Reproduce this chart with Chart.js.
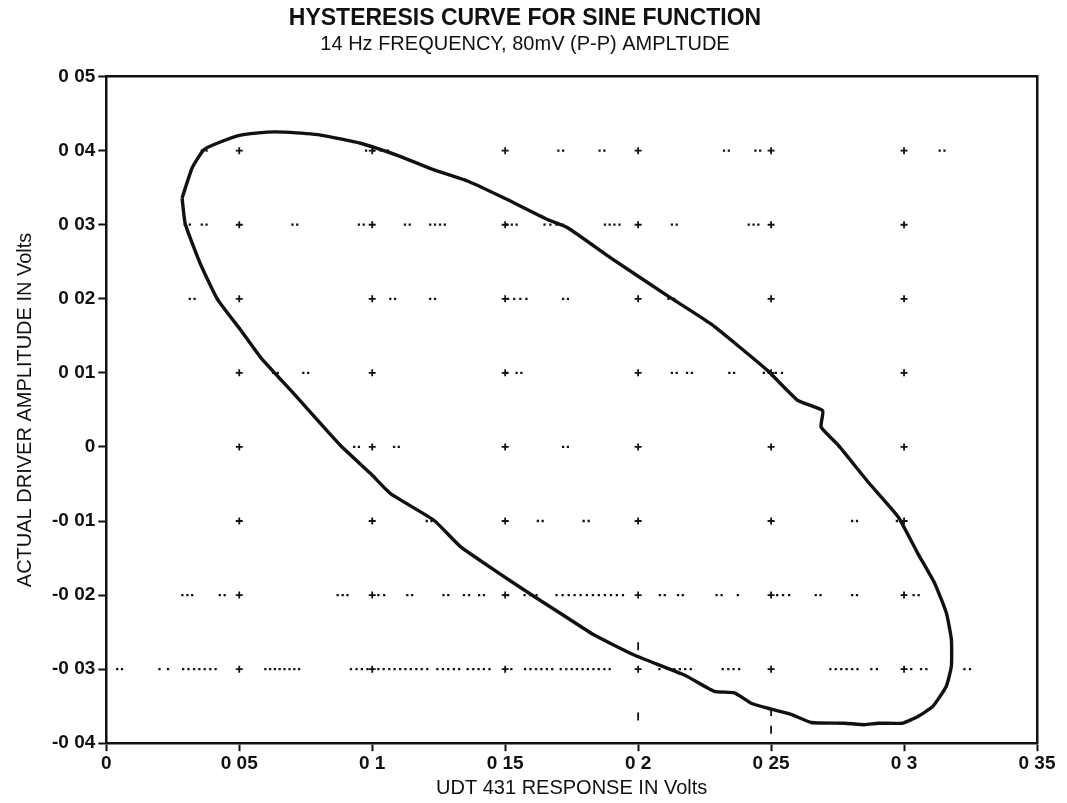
<!DOCTYPE html>
<html>
<head>
<meta charset="utf-8">
<script src="https://cdn.jsdelivr.net/npm/chart.js@4.4.1/dist/chart.umd.min.js"></script>
<style>
  body { margin: 0; background: #fff; }
  canvas { display: block; }
</style>
</head>
<body>
<canvas id="chartHysteresis" width="1067" height="803"></canvas>
<script>
// ticks
const xTickValues = [0, 0.05, 0.1, 0.15, 0.2, 0.25, 0.3, 0.35];
const xTickLabels = ['0', '0 05', '0 1', '0 15', '0 2', '0 25', '0 3', '0 35'];
const yTickValues = [0.05, 0.04, 0.03, 0.02, 0.01, 0, -0.01, -0.02, -0.03, -0.04];
const yTickLabels = ['0 05', '0 04', '0 03', '0 02', '0 01', '0', '-0 01', '-0 02', '-0 03', '-0 04'];

// hysteresis loop (response, driver amplitude)
const loopX = [0.0285, 0.0323, 0.0366, 0.0417, 0.0505, 0.0605, 0.0668, 0.0806, 0.0956, 0.1107,
  0.1232, 0.1358, 0.1496, 0.1659, 0.1735, 0.1898, 0.2111, 0.2274, 0.2487, 0.2600,
  0.2694, 0.2688, 0.2751, 0.2864, 0.2977, 0.3052, 0.3115, 0.3159, 0.3178, 0.3178,
  0.3159, 0.3109, 0.3052, 0.2994, 0.2902, 0.2851, 0.2776, 0.2651, 0.2575, 0.2500,
  0.2425, 0.2362, 0.2287, 0.2174, 0.1985, 0.1835, 0.1735, 0.1609, 0.1483, 0.1333,
  0.1232, 0.1069, 0.0994, 0.0881, 0.0705, 0.0580, 0.0505, 0.0417, 0.0354, 0.0297, 0.0285];
const loopY = [0.0336, 0.0377, 0.0401, 0.0410, 0.0421, 0.0425, 0.0425, 0.0421, 0.0410, 0.0392,
  0.0374, 0.0359, 0.0336, 0.0307, 0.0296, 0.0255, 0.0204, 0.0166, 0.0103, 0.0063,
  0.0049, 0.0027, 0.0003, -0.0047, -0.0094, -0.0144, -0.0184, -0.0224, -0.0260, -0.0296,
  -0.0323, -0.0350, -0.0364, -0.0373, -0.0373, -0.0375, -0.0373, -0.0372, -0.0361, -0.0354,
  -0.0346, -0.0332, -0.0330, -0.0308, -0.0281, -0.0254, -0.0231, -0.0202, -0.0172, -0.0135,
  -0.0099, -0.0063, -0.0036, 0.0002, 0.0072, 0.0121, 0.0158, 0.0200, 0.0247, 0.0301, 0.0336];

// stray dots of the plotter along each grid row
const rowLevels = [0.04, 0.03, 0.02, 0.01, 0, -0.01, -0.02, -0.03];
const row04 = [0.0359, 0.0377, 0.0977, 0.1005, 0.1032, 0.1059, 0.17, 0.1718, 0.1855, 0.1873,
  0.2323, 0.2341, 0.2441, 0.2459, 0.3134, 0.3152];
const row03 = [0.0295, 0.0314, 0.0359, 0.0377, 0.07, 0.0718, 0.095, 0.0968, 0.1123, 0.1141,
  0.1218, 0.1236, 0.1255, 0.1273, 0.1507, 0.1525, 0.1543, 0.1648, 0.167, 0.1693, 0.1716,
  0.1875, 0.1893, 0.1911, 0.193, 0.2127, 0.2145, 0.2416, 0.2434, 0.2452];
const row02 = [0.0314, 0.0332, 0.042, 0.1068, 0.1086, 0.1218, 0.1236, 0.1511, 0.1534, 0.1557,
  0.158, 0.1718, 0.1736, 0.2114, 0.2136];
const row01 = [0.0627, 0.0645, 0.0741, 0.0759, 0.1507, 0.1543, 0.1561, 0.2127, 0.2145, 0.2184,
  0.2202, 0.2343, 0.2361, 0.2473, 0.2518, 0.2541];
const row00 = [0.0932, 0.095, 0.1082, 0.11, 0.1718, 0.1736, 0.2755];
const rowM01 = [0.1205, 0.1223, 0.1623, 0.1641, 0.1795, 0.1814, 0.2805, 0.2823, 0.2973, 0.2991];
const rowM02 = [0.0286, 0.0305, 0.0323, 0.0427, 0.0445, 0.087, 0.0889, 0.0907, 0.1023, 0.1045,
  0.1132, 0.115, 0.1268, 0.1286, 0.1345, 0.1364, 0.1402, 0.142, 0.1511, 0.1573, 0.1595, 0.1618,
  0.1693, 0.1716, 0.1739, 0.1761, 0.1784, 0.1807, 0.183, 0.1852, 0.1875, 0.1898, 0.192, 0.1943,
  0.2082, 0.21, 0.215, 0.2168, 0.2295, 0.2314, 0.2375, 0.2523, 0.2545, 0.2568, 0.2668, 0.2686,
  0.2805, 0.2823, 0.3036, 0.3055, 0.3132];
const rowM03 = [0.0041, 0.0059, 0.02, 0.0232, 0.0289, 0.0309, 0.033, 0.035, 0.037, 0.0391, 0.0411,
  0.0598, 0.0616, 0.0634, 0.0652, 0.067, 0.0689, 0.0707, 0.0725,
  0.092, 0.0941, 0.0961, 0.0982, 0.1002, 0.1023, 0.1043, 0.1064, 0.1084, 0.1105, 0.1125, 0.1145,
  0.1166, 0.1186, 0.1207, 0.1245, 0.1266, 0.1286, 0.1307, 0.1327, 0.1359, 0.138, 0.14, 0.142,
  0.1441, 0.1523, 0.1575, 0.1595, 0.1616, 0.1636, 0.1657, 0.1677, 0.1709, 0.173, 0.175, 0.177,
  0.1791, 0.1811, 0.1832, 0.1852, 0.1873, 0.1893, 0.208, 0.2136, 0.2157, 0.2177, 0.2198, 0.2318,
  0.2339, 0.2359, 0.238, 0.2723, 0.2743, 0.2764, 0.2784, 0.2805, 0.2825, 0.2877, 0.2898, 0.3027,
  0.3064, 0.3084, 0.3227, 0.3248];
const dotRows = [row04, row03, row02, row01, row00, rowM01, rowM02, rowM03];

// short vertical marks below the loop
const vMarkX = [0.2, 0.2, 0.25, 0.25];
const vMarkY = [-0.0269, -0.0364, -0.0358, -0.0382];

// crosses at the grid intersections
const crossX = [0.05, 0.1, 0.15, 0.2, 0.25, 0.3];

const loopPoints = loopX.map((x, i) => ({ x: x, y: loopY[i] }));
const dotPoints = [];
dotRows.forEach((row, r) => row.forEach(x => dotPoints.push({ x: x, y: rowLevels[r] })));
const crossPoints = [];
rowLevels.forEach(y => crossX.forEach(x => crossPoints.push({ x: x, y: y })));
const vMarkPoints = vMarkX.map((x, i) => ({ x: x, y: vMarkY[i] }));

const FONT = "'Liberation Sans', Arial, sans-serif";
const INK = '#111';

function labelFor(values, labels, v) {
  const i = values.findIndex(t => Math.abs(t - v) < 1e-6);
  return i >= 0 ? labels[i] : '';
}

new Chart(document.getElementById('chartHysteresis'), {
  type: 'scatter',
  data: {
    datasets: [
      {
        label: 'Loop',
        data: loopPoints,
        showLine: true,
        borderColor: INK,
        borderWidth: 3.4,
        pointRadius: 0,
        tension: 0.15
      },
      {
        label: 'Dots',
        data: dotPoints,
        pointStyle: 'rect',
        pointRadius: 1.6,
        backgroundColor: INK,
        borderColor: INK,
        borderWidth: 0
      },
      {
        label: 'Crosses',
        data: crossPoints,
        pointStyle: 'cross',
        pointRadius: 3.5,
        borderColor: INK,
        borderWidth: 1.8
      },
      {
        label: 'Marks',
        data: vMarkPoints,
        pointStyle: 'line',
        pointRotation: 90,
        pointRadius: 4,
        borderColor: INK,
        borderWidth: 1.8
      }
    ]
  },
  options: {
    responsive: false,
    animation: false,
    layout: { padding: { left: 13, right: 30, top: 0, bottom: 3 } },
    plugins: {
      legend: { display: false },
      tooltip: { enabled: false },
      title: {
        display: true,
        text: 'HYSTERESIS CURVE FOR SINE FUNCTION',
        color: INK,
        font: { family: FONT, size: 23, weight: 'bold' },
        padding: { top: 5, bottom: 0 }
      },
      subtitle: {
        display: true,
        text: '14 Hz FREQUENCY, 80mV (P-P) AMPLTUDE',
        color: INK,
        font: { family: FONT, size: 20 },
        padding: { top: 0, bottom: 20 }
      }
    },
    scales: {
      x: {
        type: 'linear',
        min: 0,
        max: 0.35,
        afterBuildTicks: axis => { axis.ticks = xTickValues.map(v => ({ value: v })); },
        ticks: {
          color: INK,
          font: { family: FONT, size: 19, weight: 'bold' },
          maxRotation: 0,
          padding: 1,
          callback: v => labelFor(xTickValues, xTickLabels, v)
        },
        grid: { drawOnChartArea: false, drawTicks: true, tickLength: 8, tickWidth: 2, tickColor: INK },
        border: { display: true, color: INK, width: 2.5 },
        title: {
          display: true,
          text: 'UDT 431 RESPONSE IN Volts',
          color: INK,
          font: { family: FONT, size: 20 },
          padding: { top: 0, bottom: 0 }
        }
      },
      y: {
        type: 'linear',
        min: -0.04,
        max: 0.05,
        afterBuildTicks: axis => { axis.ticks = yTickValues.slice().reverse().map(v => ({ value: v })); },
        ticks: {
          color: INK,
          font: { family: FONT, size: 19, weight: 'bold' },
          padding: 3,
          callback: v => labelFor(yTickValues, yTickLabels, v)
        },
        grid: { drawOnChartArea: false, drawTicks: true, tickLength: 8, tickWidth: 2, tickColor: INK },
        border: { display: true, color: INK, width: 2.5 },
        title: {
          display: true,
          text: 'ACTUAL DRIVER AMPLITUDE IN Volts',
          color: INK,
          font: { family: FONT, size: 20 },
          padding: { top: 0, bottom: 12 }
        }
      },
      x2: {
        type: 'linear',
        position: 'top',
        min: 0,
        max: 0.35,
        ticks: { display: false },
        grid: { display: false, drawTicks: false },
        border: { display: true, color: INK, width: 2.5 }
      },
      y2: {
        type: 'linear',
        position: 'right',
        min: -0.04,
        max: 0.05,
        ticks: { display: false },
        grid: { display: false, drawTicks: false },
        border: { display: true, color: INK, width: 2.5 }
      }
    }
  }
});
</script>
</body>
</html>
